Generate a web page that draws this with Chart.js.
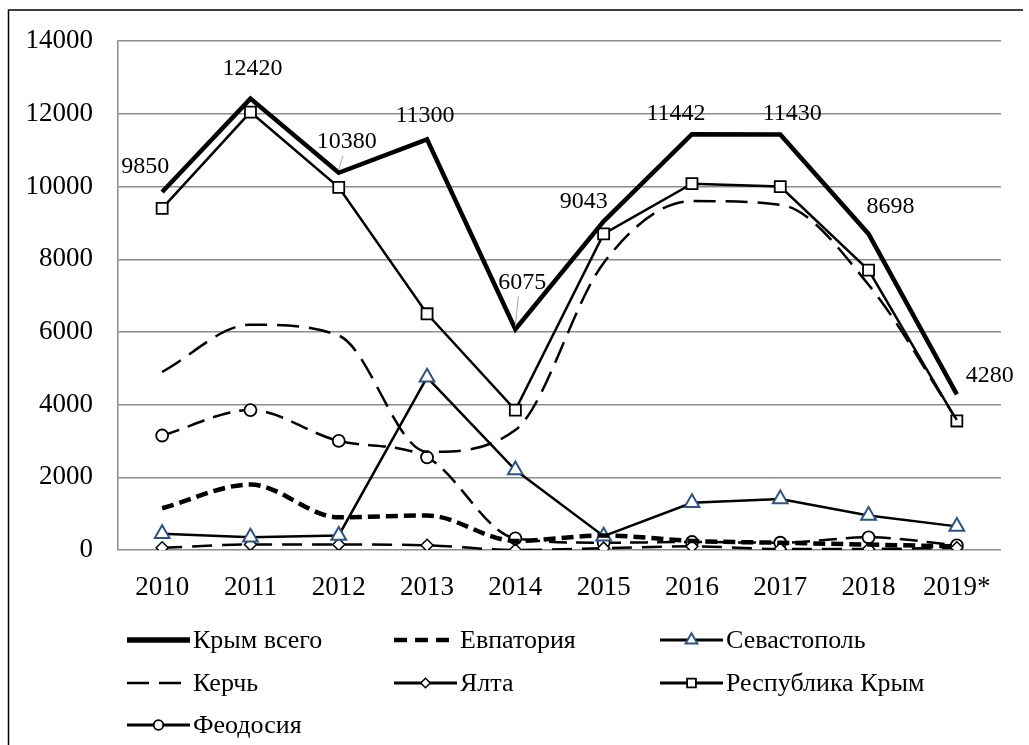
<!DOCTYPE html>
<html><head><meta charset="utf-8">
<script src="https://cdn.jsdelivr.net/npm/chart.js@4/dist/chart.umd.min.js"></script>
<style>html,body{margin:0;padding:0;background:#fff;} #wrap{width:1029px;height:745px;position:relative;}
#pre{position:absolute;left:-9999px;top:0;font-family:"Liberation Serif";font-size:24px;}</style>
</head><body><div id="wrap"><canvas id="c" width="1029" height="745"></canvas></div>
<span id="pre">Крым всего 0123456789</span>
<script>
const categories = ['2010','2011','2012','2013','2014','2015','2016','2017','2018','2019*'];
const krymTotal  = [9850,12420,10380,11300,6075,9043,11442,11430,8698,4280];
const evpatoria  = [1150,1800,900,950,250,400,250,200,150,100];
const sevastopol = [450,350,400,4750,2200,380,1300,1400,950,650];
const kerch      = [4900,6200,5900,2700,3300,7900,9600,9500,7300,3580];
const yalta      = [60,150,150,130,0,50,100,30,30,60];
const respKrym   = [9400,12050,9980,6500,3850,8700,10080,10000,7700,3550];
const feodosia   = [3150,3850,3000,2550,320,200,220,200,350,130];
const seriesNames = ['Крым всего','Евпатория','Севастополь','Керчь','Ялта','Республика Крым','Феодосия'];
const yMin = 0, yMax = 14000, yStep = 2000;

const FONT = "'Liberation Serif', 'Times New Roman', 'DejaVu Serif', serif";
const GRID = '#8c8c8c';

const labelOffsets = [[-17,-25],[2,-30],[8,-31],[-2,-24],[7,-47],[-20,-20],[-16,-20],[12,-21],[22,-27],[33,-19]];
const leaderIdx = [2,4];

const dataLabelPlugin = {
  id:'dataLabels',
  afterDatasetsDraw(chart){
    const ctx = chart.ctx;
    const meta = chart.getDatasetMeta(0);
    ctx.save();
    ctx.font = '24px ' + FONT;
    ctx.fillStyle = '#000';
    ctx.textAlign = 'center';
    ctx.textBaseline = 'middle';
    chart.data.datasets[0].data.forEach((v,i)=>{
      const p = meta.data[i];
      const lx = p.x + labelOffsets[i][0], ly = p.y + labelOffsets[i][1];
      if (leaderIdx.includes(i)) {
        ctx.save();
        ctx.strokeStyle = '#a6a6a6'; ctx.lineWidth = 1;
        ctx.beginPath(); ctx.moveTo(lx-4, ly+14); ctx.lineTo(p.x, p.y-3); ctx.stroke();
        ctx.restore();
      }
      ctx.fillText(String(v), lx, ly);
    });
    ctx.restore();
  }
};

const frameLegendPlugin = {
  id:'frameLegend',
  beforeDraw(chart){
    const ctx = chart.ctx;
    ctx.save();
    ctx.fillStyle = '#fff';
    ctx.fillRect(0,0,chart.width,chart.height);
    ctx.strokeStyle = '#000'; ctx.lineWidth = 1.5;
    ctx.beginPath();
    ctx.moveTo(8.5, 760); ctx.lineTo(8.5, 10); ctx.lineTo(1023, 10);
    ctx.stroke();
    ctx.restore();
  },
  afterDraw(chart){
    const ctx = chart.ctx;
    const colX = [127, 394, 660];
    const rowY = [640, 683, 725];
    const sampleLen = 63;
    ctx.save();
    ctx.font = '26px ' + FONT;
    ctx.textBaseline = 'middle';
    ctx.textAlign = 'left';
    chart.data.datasets.forEach((ds,i)=>{
      const x = colX[i%3], y = rowY[Math.floor(i/3)];
      const hasMarker = ds.pointRadius > 0;
      ctx.save();
      ctx.strokeStyle = ds.borderColor;
      ctx.lineWidth = hasMarker ? 3 : ds.borderWidth + (i===0 ? 1 : 0);
      ctx.setLineDash(hasMarker ? [] : (i===1 ? [13,8] : (ds.borderDash || [])));
      ctx.beginPath(); ctx.moveTo(x, y); ctx.lineTo(x+sampleLen, y); ctx.stroke();
      ctx.setLineDash([]);
      if (hasMarker) {
        ctx.fillStyle = ds.pointBackgroundColor;
        ctx.strokeStyle = ds.pointBorderColor;
        ctx.lineWidth = ds.pointBorderWidth;
        Chart.helpers.drawPoint(ctx, {pointStyle: ds.pointStyle, radius: ds.pointRadius*0.8, borderWidth: ds.pointBorderWidth, rotation: 0}, x+sampleLen/2, y);
      }
      ctx.restore();
      ctx.fillStyle = '#000';
      ctx.fillText(ds.label, x+sampleLen+3, y+1);
    });
    ctx.restore();
  }
};

function ds(label, data, opts){
  return Object.assign({label, data, borderColor:'#000', backgroundColor:'#000', fill:false,
    pointRadius:0, pointHoverRadius:0, tension:0, borderCapStyle:'butt'}, opts);
}

function draw(){
  const datasets = [
    ds(seriesNames[0], krymTotal, {borderWidth:4.5}),
    ds(seriesNames[1], evpatoria, {borderWidth:4.5, borderDash:[12,6], tension:0.4, cubicInterpolationMode:'monotone'}),
    ds(seriesNames[2], sevastopol, {borderWidth:2.5, pointStyle:'triangle', pointRadius:8.5, pointBorderColor:'#2f5385', pointBackgroundColor:'#fff', pointBorderWidth:2}),
    ds(seriesNames[3], kerch, {borderWidth:2.5, borderDash:[22,10], tension:0.4, cubicInterpolationMode:'monotone'}),
    ds(seriesNames[4], yalta, {borderWidth:2.5, borderDash:[20,10], tension:0.4, cubicInterpolationMode:'monotone', pointStyle:'rectRot', pointRadius:6, pointBorderColor:'#000', pointBackgroundColor:'#fff', pointBorderWidth:1.5}),
    ds(seriesNames[5], respKrym, {borderWidth:2.5, pointStyle:'rect', pointRadius:7.8, pointBorderColor:'#000', pointBackgroundColor:'#fff', pointBorderWidth:1.8}),
    ds(seriesNames[6], feodosia, {borderWidth:2.5, borderDash:[18,9], tension:0.4, cubicInterpolationMode:'monotone', pointStyle:'circle', pointRadius:6, pointBorderColor:'#000', pointBackgroundColor:'#fff', pointBorderWidth:1.8})
  ];

  new Chart(document.getElementById('c'), {
    type:'line',
    data:{labels:categories, datasets},
    options:{
      responsive:false, animation:false, devicePixelRatio:1,
      layout:{padding:{top:38, right:28, bottom:135, left:0}},
      plugins:{legend:{display:false}, tooltip:{enabled:false}},
      scales:{
        x:{
          offset:true,
          grid:{display:false, drawTicks:false},
          border:{display:false},
          ticks:{font:{family:FONT, size:27}, color:'#000', padding:22, maxRotation:0, autoSkip:false},
          afterFit(s){ s.height = 60; }
        },
        y:{
          min:yMin, max:yMax,
          grid:{color:GRID, lineWidth:1.5, drawTicks:false},
          border:{display:true, color:GRID, width:1.5},
          ticks:{stepSize:yStep, font:{family:FONT, size:27}, color:'#000', padding:25, callback:(v)=>String(v)},
          afterFit(s){ s.width = 118; }
        }
      }
    },
    plugins:[frameLegendPlugin, dataLabelPlugin]
  });
}
Chart.defaults.font.family = FONT;
if (document.fonts && document.fonts.load) {
  Promise.all([document.fonts.load("24px 'Liberation Serif'", 'Крым 0123')]).then(draw, draw);
} else draw();
</script></body></html>
